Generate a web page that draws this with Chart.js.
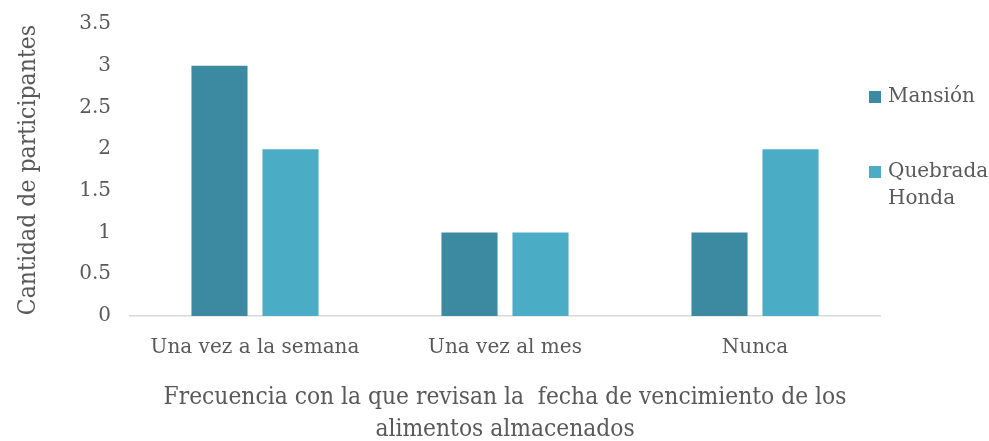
<!DOCTYPE html>
<html>
<head>
<meta charset="utf-8">
<script src="https://cdn.jsdelivr.net/npm/chart.js@4.4.0/dist/chart.umd.min.js"></script>
<style>
    html, body { margin: 0; padding: 0; background: #fff; }
    #wrap { position: relative; width: 989px; height: 441px; }
    #legend { position: absolute; left: 869px; top: 82px; font-family: 'DejaVu Serif', serif; font-size: 20px; color: #595959; line-height: 27px; }
    .item { display: flex; align-items: flex-start; margin-bottom: 48px; }
    .box { width: 12px; height: 12px; margin-top: 9px; margin-right: 7px; flex: none; }
</style>
</head>
<body>
<div id="wrap">
    <canvas id="chart" width="989" height="441"></canvas>
    <div id="legend"></div>
</div>
<script>
const categories = ['Una vez a la semana', 'Una vez al mes', 'Nunca'];
const mansion = [3, 1, 1];
const quebradaHonda = [2, 1, 2];
const yTicks = [0, 0.5, 1, 1.5, 2, 2.5, 3, 3.5];

const seriesLabels = ['Mansión', 'Quebrada Honda'];
const seriesColors = ['#3C8AA2', '#4BACC6'];
const textColor = '#595959';

const ctx = document.getElementById('chart').getContext('2d');
const chart = new Chart(ctx, {
    type: 'bar',
    data: {
        labels: categories,
        datasets: [
            { label: seriesLabels[0], data: mansion, backgroundColor: seriesColors[0], categoryPercentage: 0.568, barPercentage: 0.79 },
            { label: seriesLabels[1], data: quebradaHonda, backgroundColor: seriesColors[1], categoryPercentage: 0.568, barPercentage: 0.79 }
        ]
    },
    options: {
        responsive: false,
        animation: false,
        layout: { padding: { top: 24, right: 109, left: 0, bottom: 0 } },
        plugins: {
            legend: { display: false },
            tooltip: { enabled: false }
        },
        scales: {
            x: {
                grid: { display: false, drawTicks: false },
                border: { color: '#D9D9D9', width: 1.5 },
                ticks: { color: textColor, font: { family: 'DejaVu Serif', size: 20 }, padding: 20 },
                title: {
                    display: true,
                    text: ['Frecuencia con la que revisan la  fecha de vencimiento de los', 'alimentos almacenados'],
                    color: textColor,
                    font: { family: 'DejaVu Serif Condensed', size: 24.3, lineHeight: 1.3 },
                    padding: { top: 8, bottom: -4 }
                },
                afterFit: (scale) => { scale.height = 125; }
            },
            y: {
                min: 0,
                max: 3.5,
                afterBuildTicks: (scale) => { scale.ticks = yTicks.map(v => ({ value: v })); },
                grid: { display: false, drawTicks: false },
                border: { display: false },
                ticks: { color: textColor, font: { family: 'DejaVu Serif', size: 20 }, padding: 19, callback: (v) => String(v) },
                title: {
                    display: true,
                    text: 'Cantidad de participantes',
                    color: textColor,
                    font: { family: 'DejaVu Serif Condensed', size: 24.5 },
                    padding: { top: 14, bottom: 4 }
                },
                afterFit: (scale) => { scale.width = 130; }
            }
        }
    },
    plugins: [{
        // pin the plot area so 3.5 sits at the same height as the reference
        id: 'pinArea',
        afterLayout: (c) => {
            const y = c.scales.y;
            y.top = 24; y.bottom = 316; y.height = 292;
            y.configure();
            c.chartArea.top = 24;
        }
    }]
});

// legend drawn as html, built from the dataset labels
const legendEl = document.getElementById('legend');
chart.data.datasets.forEach(ds => {
    const item = document.createElement('div');
    item.className = 'item';
    const box = document.createElement('div');
    box.className = 'box';
    box.style.background = ds.backgroundColor;
    const txt = document.createElement('div');
    txt.innerHTML = ds.label.replace(' ', '<br>');
    item.appendChild(box);
    item.appendChild(txt);
    legendEl.appendChild(item);
});
</script>
</body>
</html>
